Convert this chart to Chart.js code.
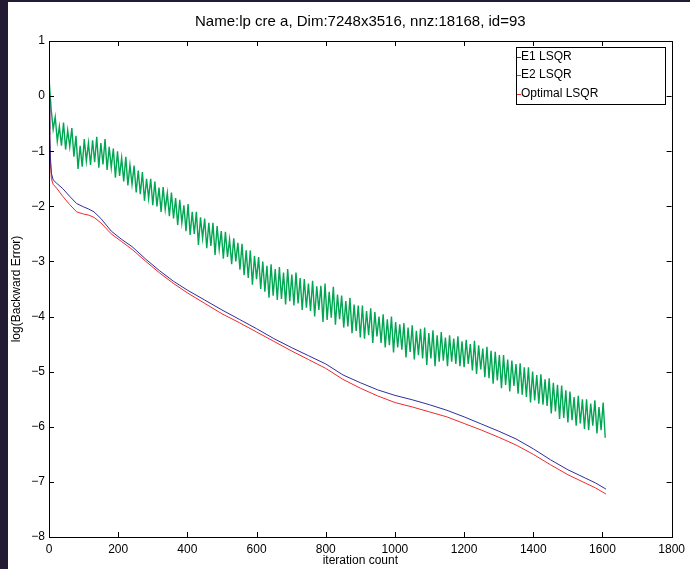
<!DOCTYPE html>
<html>
<head>
<meta charset="utf-8">
<script src="https://cdn.jsdelivr.net/npm/chart.js@4/dist/chart.umd.min.js"></script>
<style>
  html, body { margin: 0; padding: 0; background: #231a33; width: 690px; height: 569px; overflow: hidden; }
  #wrap { position: absolute; left: 8px; top: 2px; width: 682px; height: 567px; background: #ffffff; }
  canvas { display: block; }
</style>
</head>
<body>
<div id="wrap"><canvas id="c" width="682" height="567"></canvas></div>
<script>
const chartTitle = 'Name:lp cre a, Dim:7248x3516, nnz:18168, id=93';
const xTitle = 'iteration count';
const yTitle = 'log(Backward Error)';
const seriesNames = ['E1 LSQR', 'E2 LSQR', 'Optimal LSQR'];
const xTicks = [0, 200, 400, 600, 800, 1000, 1200, 1400, 1600, 1800];
const yTicks = [1, 0, -1, -2, -3, -4, -5, -6, -7, -8];

// smooth curves: iteration, E1 and Optimal
const smoothIter = [0, 2, 4, 7, 12, 22, 40, 60, 80, 100, 115, 130, 150, 180, 210, 240, 280, 320, 360, 400,
  450, 500, 550, 600, 650, 700, 750, 800, 850, 900, 950, 1000, 1050, 1100, 1150, 1200, 1250, 1300, 1350,
  1400, 1450, 1500, 1550, 1580, 1610];
const e1Vals = [-0.05, -0.6, -1.1, -1.4, -1.52, -1.58, -1.68, -1.82, -1.95, -2.01, -2.05, -2.10, -2.22, -2.45,
  -2.60, -2.73, -2.96, -3.17, -3.36, -3.52, -3.70, -3.88, -4.05, -4.22, -4.40, -4.56, -4.71, -4.86, -5.06,
  -5.20, -5.33, -5.43, -5.51, -5.60, -5.70, -5.82, -5.95, -6.08, -6.22, -6.40, -6.60, -6.78, -6.93, -7.02, -7.13];
const optVals = [-0.05, -0.7, -1.2, -1.5, -1.6, -1.67, -1.82, -1.97, -2.10, -2.14, -2.16, -2.20, -2.30, -2.50,
  -2.64, -2.78, -3.00, -3.21, -3.40, -3.57, -3.76, -3.95, -4.11, -4.28, -4.45, -4.62, -4.78, -4.94, -5.14,
  -5.30, -5.44, -5.56, -5.64, -5.73, -5.82, -5.94, -6.06, -6.19, -6.33, -6.50, -6.69, -6.87, -7.02, -7.11, -7.22];

// noisy E2 curve, sampled every 6 iterations
const e2Step = 6;
const e2Vals = [
  0.33, -0.22, -0.6, -0.38, -0.82, -0.55, -0.9, -0.48, -0.97, -0.62,
  -0.92, -0.58, -1.1, -0.72, -1.32, -0.9, -1.28, -0.78, -1.18, -0.85,
  -1.25, -0.8, -1.2, -0.74, -1.3, -0.85, -1.24, -0.78, -1.34, -0.92,
  -1.3, -0.95, -1.48, -1.0, -1.45, -1.12, -1.55, -1.1, -1.62, -1.25,
  -1.6, -1.26, -1.75, -1.35, -1.78, -1.38, -1.9, -1.5, -1.86, -1.5,
  -1.98, -1.55, -2.0, -1.66, -2.1, -1.65, -2.06, -1.76, -2.18, -1.75,
  -2.22, -1.85, -2.34, -1.88, -2.3, -1.98, -2.45, -1.96, -2.52, -2.1,
  -2.5, -2.1, -2.7, -2.2, -2.58, -2.22, -2.76, -2.3, -2.72, -2.3,
  -2.88, -2.36, -2.78, -2.45, -2.95, -2.46, -2.92, -2.6, -3.05, -2.58,
  -3.0, -2.66, -3.15, -2.68, -3.25, -2.8, -3.3, -2.8, -3.42, -2.9,
  -3.32, -2.92, -3.5, -3.0, -3.55, -3.08, -3.66, -3.05, -3.62, -3.14,
  -3.7, -3.1, -3.68, -3.2, -3.78, -3.14, -3.72, -3.24, -3.8, -3.2,
  -3.76, -3.3, -3.88, -3.32, -3.84, -3.4, -3.9, -3.35, -4.0, -3.45,
  -3.88, -3.44, -4.1, -3.4, -4.06, -3.55, -4.02, -3.46, -4.15, -3.6,
  -4.05, -3.62, -4.2, -3.72, -4.18, -3.66, -4.3, -3.78, -4.26, -3.8,
  -4.38, -3.8, -4.4, -3.9, -4.34, -3.85, -4.48, -3.92, -4.36, -4.0,
  -4.48, -3.96, -4.56, -4.05, -4.52, -4.0, -4.65, -4.1, -4.56, -4.14,
  -4.6, -4.12, -4.74, -4.2, -4.64, -4.16, -4.78, -4.26, -4.7, -4.22,
  -4.76, -4.2, -4.88, -4.3, -4.76, -4.25, -4.9, -4.34, -4.82, -4.28,
  -4.8, -4.38, -4.9, -4.34, -4.82, -4.4, -4.86, -4.36, -4.9, -4.45,
  -4.92, -4.42, -4.86, -4.5, -4.98, -4.44, -5.04, -4.52, -4.96, -4.58,
  -5.1, -4.55, -5.12, -4.62, -5.22, -4.64, -5.16, -4.7, -5.3, -4.7,
  -5.24, -4.78, -5.36, -4.8, -5.26, -4.86, -5.4, -4.85, -5.42, -4.92,
  -5.46, -4.92, -5.56, -5.0, -5.52, -5.06, -5.58, -5.05, -5.6, -5.14,
  -5.62, -5.12, -5.76, -5.2, -5.72, -5.24, -5.86, -5.25, -5.84, -5.34,
  -5.92, -5.36, -5.88, -5.46, -5.98, -5.44, -5.94, -5.5, -6.04, -5.5,
  -6.06, -5.58, -5.98, -5.52, -6.12, -5.64, -6.06, -5.56, -6.2
];

const colors = ['#2e2e9e', '#00a651', '#ee2a2a'];
const FONT = '"Liberation Sans", Arial, Helvetica, sans-serif';

const toPts = (xs, ys) => ys.map((v, i) => ({ x: xs[i], y: v }));
const e2Pts = e2Vals.map((v, i) => ({ x: i * e2Step, y: v }));

const fmtY = v => (v < 0 ? '\u2212' + Math.abs(v) : String(v));

const decor = {
  id: 'decor',
  afterDraw(chart) {
    const ctx = chart.ctx;
    const a = chart.chartArea;
    const xs = chart.scales.x, ys = chart.scales.y;
    ctx.save();
    // box
    ctx.strokeStyle = '#000';
    ctx.lineWidth = 1;
    ctx.strokeRect(Math.round(a.left) + 0.5, Math.round(a.top) + 0.5, Math.round(a.right - a.left), Math.round(a.bottom - a.top));
    // inward ticks
    const tl = 5;
    ctx.beginPath();
    xTicks.forEach(t => {
      const px = Math.round(xs.getPixelForValue(t)) + 0.5;
      ctx.moveTo(px, a.bottom); ctx.lineTo(px, a.bottom - tl);
      ctx.moveTo(px, a.top); ctx.lineTo(px, a.top + tl);
    });
    yTicks.forEach(t => {
      const py = Math.round(ys.getPixelForValue(t)) + 0.5;
      ctx.moveTo(a.left, py); ctx.lineTo(a.left + tl, py);
      ctx.moveTo(a.right, py); ctx.lineTo(a.right - tl, py);
    });
    ctx.stroke();
    // titles
    ctx.fillStyle = '#000';
    ctx.textAlign = 'center';
    ctx.textBaseline = 'middle';
    ctx.font = '15px ' + FONT;
    ctx.fillText(chartTitle, (a.left + a.right) / 2, 20);
    ctx.font = '12px ' + FONT;
    ctx.fillText(xTitle, (a.left + a.right) / 2, 559);
    ctx.save();
    ctx.translate(9, (a.top + a.bottom) / 2);
    ctx.rotate(-Math.PI / 2);
    ctx.fillText(yTitle, 0, 0);
    ctx.restore();
    // legend
    const lx = 508, ly = 45, lw = 149, lh = 57;
    ctx.fillStyle = '#fff';
    ctx.fillRect(lx, ly, lw, lh);
    ctx.strokeStyle = '#000';
    ctx.strokeRect(lx + 0.5, ly + 0.5, lw, lh);
    ctx.textAlign = 'left';
    ctx.font = '12px ' + FONT;
    chart.data.datasets.forEach((ds, i) => {
      const yy = ly + 9.5 + i * 18.5;
      ctx.strokeStyle = ds.borderColor;
      ctx.beginPath();
      ctx.moveTo(lx + 1, Math.round(yy) + 0.5);
      ctx.lineTo(lx + 5, Math.round(yy) + 0.5);
      ctx.stroke();
      ctx.fillStyle = '#000';
      ctx.fillText(ds.label, lx + 5, yy);
    });
    ctx.restore();
  }
};

new Chart(document.getElementById('c'), {
  type: 'line',
  data: {
    datasets: [
      { label: seriesNames[0], data: toPts(smoothIter, e1Vals), borderColor: colors[0], borderWidth: 1, pointRadius: 0, tension: 0 },
      { label: seriesNames[1], data: e2Pts, borderColor: colors[1], borderWidth: 1.4, pointRadius: 0, tension: 0 },
      { label: seriesNames[2], data: toPts(smoothIter, optVals), borderColor: colors[2], borderWidth: 1, pointRadius: 0, tension: 0 }
    ]
  },
  options: {
    responsive: false,
    animation: false,
    devicePixelRatio: 1,
    layout: { padding: { left: 0, right: 18, top: 39, bottom: 0 } },
    plugins: { legend: { display: false }, title: { display: false }, tooltip: { enabled: false } },
    scales: {
      x: {
        type: 'linear', min: 0, max: 1800,
        afterFit(s) { s.height = 32; },
        afterBuildTicks(s) { s.ticks = xTicks.map(v => ({ value: v })); },
        grid: { display: false, drawTicks: false },
        border: { display: false },
        ticks: { padding: 5, color: '#000', font: { family: FONT, size: 12 }, maxRotation: 0, autoSkip: false, callback: v => String(v) }
      },
      y: {
        type: 'linear', min: -8, max: 1,
        afterFit(s) { s.width = 41; },
        afterBuildTicks(s) { s.ticks = yTicks.map(v => ({ value: v })); },
        grid: { display: false, drawTicks: false },
        border: { display: false },
        ticks: { padding: 4, color: '#000', font: { family: FONT, size: 12 }, autoSkip: false, callback: v => fmtY(v) }
      }
    }
  },
  plugins: [decor]
});
</script>
</body>
</html>
